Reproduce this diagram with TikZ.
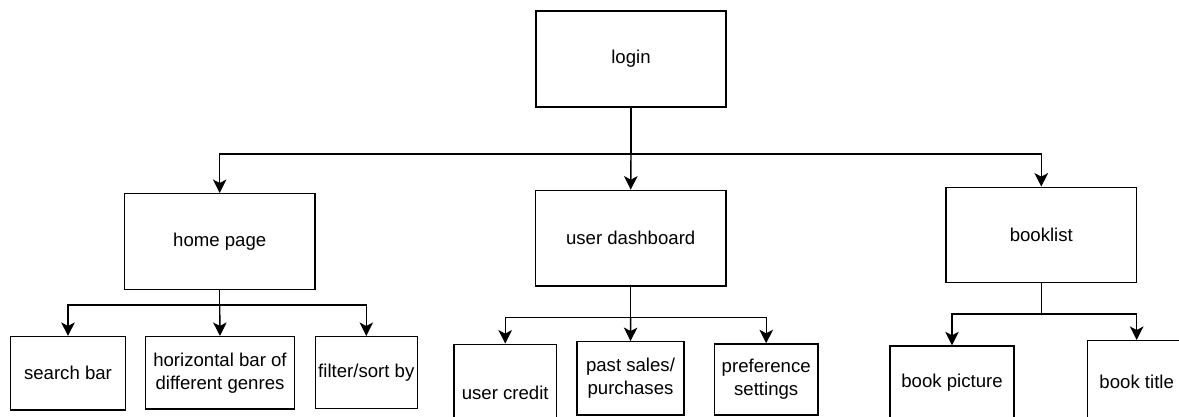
\documentclass[tikz,border=0pt]{standalone}
\usepackage{fontspec}
\setmainfont{Liberation Sans}
\usetikzlibrary{arrows.meta}
\begin{document}
\begin{tikzpicture}[x=1pt,y=-1pt,
  box/.style={draw=black, line width=1.4pt, inner sep=0pt, align=center,
    font=\fontsize{18.6}{22.8}\selectfont},
  link/.style={draw=black, line width=1.4pt,
    -{Stealth[length=13.5pt,width=13.5pt,inset=3.5pt]}},
  plain/.style={draw=black, line width=1.4pt}]
\useasboundingbox (0,0) rectangle (1179,417);
\clip (0,0) rectangle (1179,417);

% top level
\node[box, minimum width=190pt, minimum height=96pt] (login) at (631,59) {login};

% second level
\node[box, minimum width=190.7pt, minimum height=95.6pt] (home) at (219.7,241.5) {home page};
\node[box, minimum width=190.7pt, minimum height=95.7pt] (dash) at (630.7,238.2) {user dashboard};
\node[box, minimum width=190.7pt, minimum height=95.4pt] (blist) at (1041.3,235) {booklist};

% home page children
\node[box, minimum width=114.6pt, minimum height=73.3pt] (search) at (68,373.3) {search bar};
\node[box, minimum width=149.4pt, minimum height=72.3pt] (genres) at (220,372.8) {horizontal bar of\\different genres};
\node[box, minimum width=102pt, minimum height=72pt] (filter) at (366.3,372.7) {filter/sort by};

% dashboard children
\node[box, minimum width=102.3pt, minimum height=97.4pt] (credit) at (505.2,393) {user credit};
\node[box, minimum width=107pt, minimum height=73.3pt] (sales) at (630.5,378.4) {past sales/\\purchases};
\node[box, minimum width=103.7pt, minimum height=71pt] (pref) at (766.2,379.5) {preference\\settings};

% booklist children
\node[box, minimum width=124pt, minimum height=74pt] (bpic) at (952,383) {book picture};
\node[box, minimum width=98pt, minimum height=82.6pt] (btitle) at (1136.7,382) {book title};

% junction points of the branching connectors
\coordinate (jlogin) at (631,154);
\coordinate (jhome) at (219.7,305);
\coordinate (jdash) at (630.7,317.3);
\coordinate (jblist) at (1041.3,314);

% login branches
\draw[plain] (login.south) -- (jlogin);
\draw[link] (jlogin) -| (home.north);
\draw[link] (jlogin) -- (dash.north);
\draw[link] (jlogin) -| (blist.north);

% home page branches
\draw[plain] (home.south) -- (jhome);
\draw[link] (jhome) -| (search.north);
\draw[link] (jhome) -- (genres.north);
\draw[link] (jhome) -| (filter.north);

% dashboard branches
\draw[plain] (dash.south) -- (jdash);
\draw[link] (jdash) -| (credit.north);
\draw[link] (jdash) -- (sales.north);
\draw[link] (jdash) -| (pref.north);

% booklist branches
\draw[plain] (blist.south) -- (jblist);
\draw[link] (jblist) -| (bpic.north);
\draw[link] (jblist) -| (btitle.north);
\end{tikzpicture}
\end{document}
